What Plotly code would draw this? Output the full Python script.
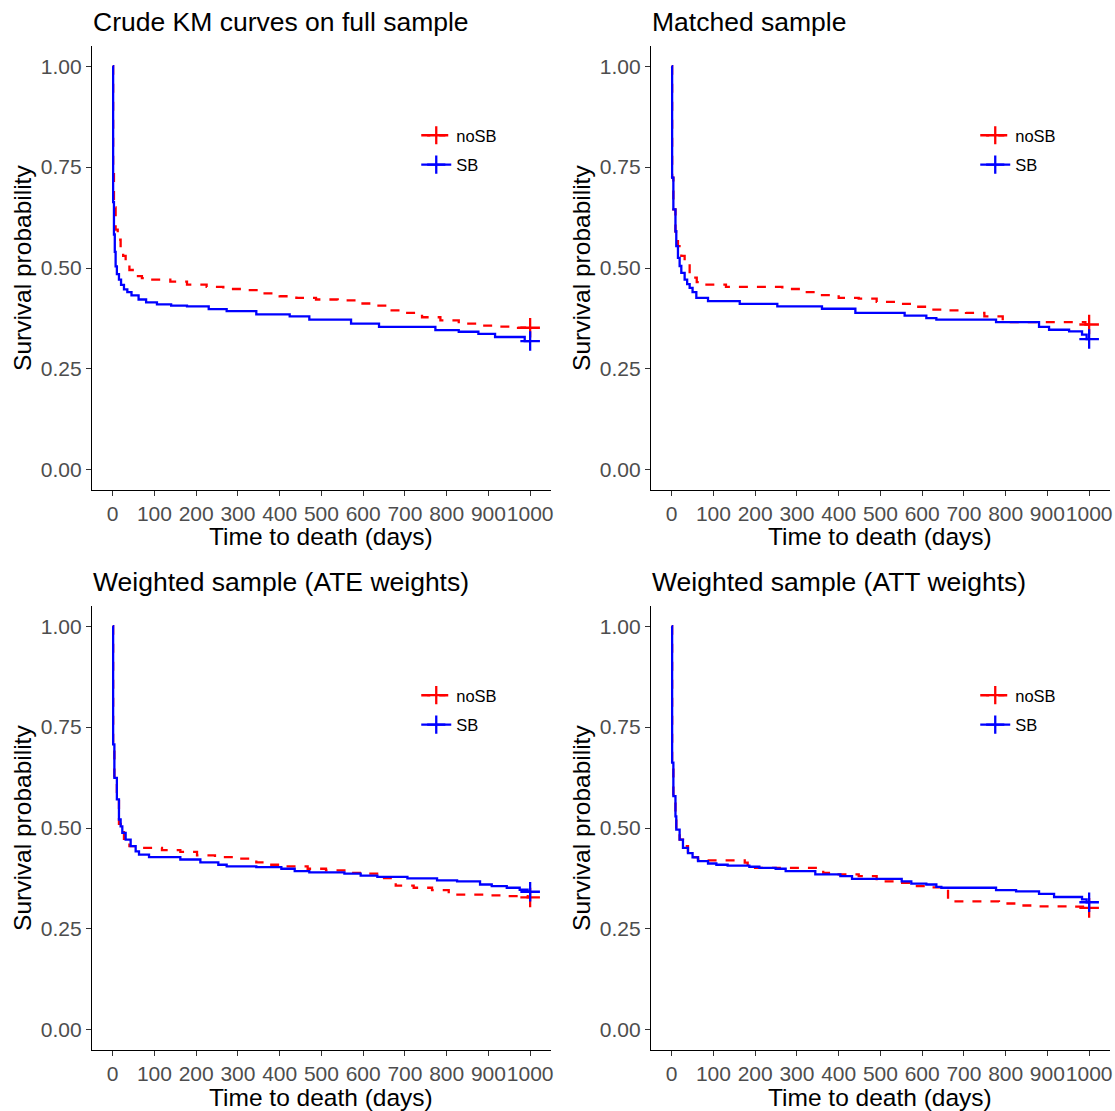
import plotly.graph_objects as go

W, H = 1115, 1111

panel_titles = ["Crude KM curves on full sample", "Matched sample",
                "Weighted sample (ATE weights)", "Weighted sample (ATT weights)"]
group_names = ["noSB", "SB"]
x_ticks = [0, 100, 200, 300, 400, 500, 600, 700, 800, 900, 1000]
y_ticks = [0.0, 0.25, 0.5, 0.75, 1.0]
y_tick_labels = ["0.00", "0.25", "0.50", "0.75", "1.00"]
x_title = "Time to death (days)"
y_title = "Survival probability"

# Panel 1: crude
crude_nosb_t = [0, 1, 3, 7, 12, 19, 25, 31, 40, 55, 70, 90, 138, 178, 225, 265, 313, 360, 400, 440,
                487, 539, 579, 622, 662, 702, 741, 785, 829, 876, 924, 971, 1000]
crude_nosb_s = [1.0, 0.75, 0.65, 0.595, 0.57, 0.546, 0.53, 0.513, 0.495, 0.48, 0.475, 0.471, 0.466,
                0.459, 0.453, 0.448, 0.445, 0.437, 0.43, 0.426, 0.422, 0.42, 0.412, 0.407, 0.395,
                0.389, 0.378, 0.37, 0.362, 0.357, 0.355, 0.352, 0.352]
crude_sb_t = [0, 1, 3, 5, 7, 10, 15, 20, 27, 35, 45, 62, 80, 106, 140, 178, 230, 273, 344, 424,
              471, 571, 638, 773, 829, 876, 916, 987, 1000]
crude_sb_s = [1.0, 0.663, 0.583, 0.54, 0.504, 0.485, 0.471, 0.458, 0.447, 0.44, 0.432, 0.422, 0.415,
              0.41, 0.407, 0.405, 0.398, 0.393, 0.385, 0.38, 0.372, 0.362, 0.354, 0.346, 0.342,
              0.337, 0.329, 0.319, 0.319]

# Panel 2: matched
match_nosb_t = [0, 1, 4, 9, 15, 23, 31, 43, 60, 75, 130, 265, 313, 356, 400, 448, 491, 536, 578,
                622, 662, 705, 749, 793, 991, 1000]
match_nosb_s = [1.0, 0.724, 0.645, 0.59, 0.554, 0.53, 0.513, 0.476, 0.465, 0.459, 0.453, 0.448,
                0.44, 0.433, 0.426, 0.424, 0.416, 0.411, 0.404, 0.397, 0.395, 0.389, 0.38, 0.366,
                0.36, 0.36]
match_sb_t = [0, 1, 4, 9, 11, 15, 19, 23, 31, 37, 43, 50, 59, 87, 163, 253, 360, 440, 558, 610,
              634, 777, 880, 904, 952, 983, 994, 1000]
match_sb_s = [1.0, 0.724, 0.645, 0.591, 0.554, 0.525, 0.505, 0.488, 0.471, 0.46, 0.451, 0.44,
              0.426, 0.418, 0.411, 0.405, 0.399, 0.389, 0.382, 0.376, 0.372, 0.366, 0.354, 0.347,
              0.343, 0.335, 0.324, 0.324]

# Panel 3: ATE weights
ate_nosb_t = [0, 1, 4, 10, 15, 27, 40, 67, 118, 162, 202, 245, 289, 336, 344, 376, 416, 467, 511,
              555, 598, 650, 678, 721, 765, 805, 900, 948, 994, 1000]
ate_nosb_s = [1.0, 0.707, 0.624, 0.571, 0.51, 0.467, 0.455, 0.451, 0.445, 0.441, 0.432, 0.428,
              0.424, 0.422, 0.415, 0.409, 0.405, 0.399, 0.395, 0.389, 0.387, 0.376, 0.357, 0.352,
              0.346, 0.335, 0.333, 0.331, 0.328, 0.328]
ate_sb_t = [0, 1, 4, 10, 15, 19, 23, 31, 43, 55, 63, 87, 162, 210, 253, 273, 344, 404, 436, 471,
            555, 594, 634, 706, 777, 825, 880, 908, 944, 975, 994, 1000]
ate_sb_s = [1.0, 0.707, 0.624, 0.571, 0.521, 0.504, 0.488, 0.471, 0.455, 0.442, 0.434, 0.428,
            0.422, 0.415, 0.409, 0.405, 0.403, 0.399, 0.393, 0.39, 0.387, 0.382, 0.379, 0.375,
            0.37, 0.368, 0.36, 0.356, 0.352, 0.347, 0.342, 0.342]

# Panel 4: ATT weights
att_nosb_t = [0, 1, 4, 9, 11, 19, 27, 39, 50, 63, 83, 175, 182, 363, 392, 448, 491, 539, 578, 622,
              662, 784, 828, 876, 960, 994, 1000]
att_nosb_s = [1.0, 0.662, 0.579, 0.529, 0.496, 0.471, 0.455, 0.44, 0.428, 0.422, 0.42, 0.414,
              0.401, 0.389, 0.385, 0.381, 0.368, 0.364, 0.356, 0.353, 0.318, 0.313, 0.308, 0.306,
              0.305, 0.302, 0.302]
att_sb_t = [0, 1, 4, 9, 11, 19, 27, 39, 50, 63, 87, 107, 134, 186, 210, 249, 273, 344, 404, 432,
            551, 574, 610, 634, 646, 777, 825, 880, 916, 983, 994, 1000]
att_sb_s = [1.0, 0.662, 0.579, 0.529, 0.496, 0.471, 0.451, 0.438, 0.427, 0.418, 0.412, 0.409,
            0.407, 0.404, 0.401, 0.399, 0.393, 0.385, 0.381, 0.374, 0.368, 0.362, 0.36, 0.354,
            0.352, 0.346, 0.343, 0.337, 0.329, 0.323, 0.316, 0.316]

panels = [
    (crude_nosb_t, crude_nosb_s, crude_sb_t, crude_sb_s),
    (match_nosb_t, match_nosb_s, match_sb_t, match_sb_s),
    (ate_nosb_t, ate_nosb_s, ate_sb_t, ate_sb_s),
    (att_nosb_t, att_nosb_s, att_sb_t, att_sb_s),
]

# panel pixel boxes (left, top, right, bottom)
boxes = [(92, 46, 552, 490), (652, 46, 1112, 490), (92, 606, 552, 1050), (652, 606, 1112, 1050)]


def px(x):
    return x / W


def py(y):
    return 1 - y / H


FONT = "Liberation Sans, Arial, sans-serif"
RED = "#FF0000"
BLUE = "#0000FF"

fig = go.Figure()
layout = dict(width=W, height=H, margin=dict(l=0, r=0, t=0, b=0),
              plot_bgcolor="white", paper_bgcolor="white",
              font=dict(family=FONT, color="black"), annotations=[])

for i, (nt, ns, st, ss) in enumerate(panels):
    k = i + 1
    xa = "x" if k == 1 else f"x{k}"
    ya = "y" if k == 1 else f"y{k}"
    leg = "legend" if k == 1 else f"legend{k}"
    l, t, r, b = boxes[i]
    for name, tt, sv, col, dash in [("noSB", nt, ns, RED, "9px,9px"), ("SB", st, ss, BLUE, "solid")]:
        fig.add_trace(go.Scatter(x=tt, y=sv, mode="lines", line=dict(color=col, width=2.3, dash=dash, shape="hv"),
                                 xaxis=xa, yaxis=ya, showlegend=False, hoverinfo="skip"))
        fig.add_trace(go.Scatter(x=[tt[-1]], y=[sv[-1]], mode="markers",
                                 marker=dict(symbol="cross-thin", size=14, line=dict(color=col, width=2.3), color=col),
                                 xaxis=xa, yaxis=ya, showlegend=False, hoverinfo="skip"))
        fig.add_trace(go.Scatter(x=[None], y=[None], mode="lines+markers", name=name,
                                 line=dict(color=col, width=2.3, dash=dash),
                                 marker=dict(symbol="cross-thin", size=13, line=dict(color=col, width=2.3), color=col),
                                 xaxis=xa, yaxis=ya, legend=leg, legendgroup=f"{name}{k}", showlegend=True))
    axis_common = dict(showline=True, linecolor="black", linewidth=1.1, ticks="outside", ticklen=5,
                       tickcolor="#333333", tickwidth=1.1, showgrid=False, zeroline=False,
                       tickfont=dict(size=21, color="#4D4D4D", family=FONT))
    layout["xaxis" if k == 1 else f"xaxis{k}"] = dict(
        axis_common, domain=[px(l), px(r)], range=[-50, 1050], tickvals=x_ticks, tickangle=0, anchor=ya)
    layout["yaxis" if k == 1 else f"yaxis{k}"] = dict(
        axis_common, domain=[py(b), py(t)], range=[-0.05, 1.05], tickvals=y_ticks,
        ticktext=y_tick_labels, anchor=xa)
    layout[leg] = dict(x=px(l + 325), y=py(t + 72), xanchor="left", yanchor="top",
                       bgcolor="rgba(0,0,0,0)", font=dict(size=16.5, family=FONT, color="black"),
                       tracegroupgap=5, traceorder="grouped", itemwidth=30)
    layout["annotations"] += [
        dict(text=panel_titles[i], x=px(l - 1), y=py(t - 24), xref="paper", yref="paper",
             xanchor="left", yanchor="middle", showarrow=False, font=dict(size=26.5, family=FONT, color="black")),
        dict(text=x_title, x=px((l + r) / 2), y=py(b + 47), xref="paper", yref="paper",
             xanchor="center", yanchor="middle", showarrow=False, font=dict(size=24.5, family=FONT, color="black")),
        dict(text=y_title, x=px(l - 70), y=py((t + b) / 2), xref="paper", yref="paper",
             xanchor="center", yanchor="middle", textangle=-90, showarrow=False,
             font=dict(size=24.5, family=FONT, color="black")),
    ]

fig.update_layout(**layout)
fig.write_html("out.html", config={"displayModeBar": False},
               post_script="document.body.style.margin='0';document.body.style.overflow='hidden';")
